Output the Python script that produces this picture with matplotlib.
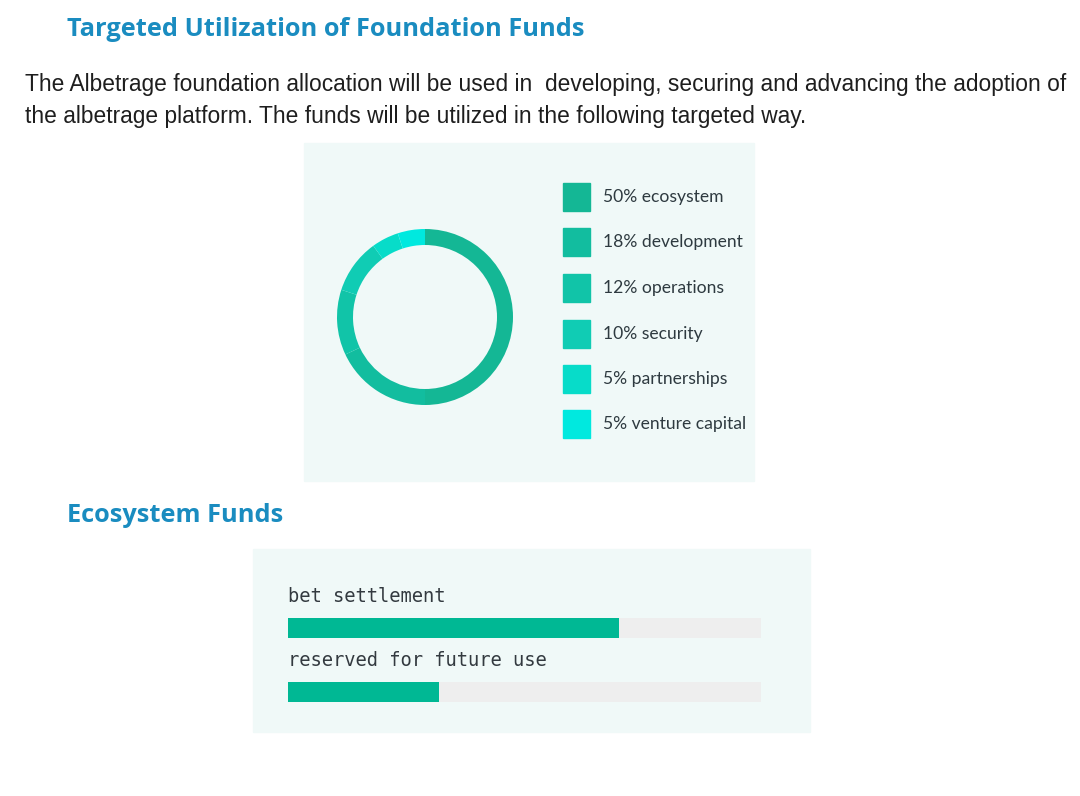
import matplotlib
matplotlib.use("Agg")
import matplotlib.pyplot as plt
from matplotlib.patches import Rectangle

# donut data
labels = ["ecosystem", "development", "operations", "security", "partnerships", "venture capital"]
shares = [50, 18, 12, 10, 5, 5]
colors = ["#14b795", "#12bd9f", "#11c4a8", "#10ccb4", "#07dcc9", "#00e9df"]

# ecosystem funds bars
bar_names = ["bet settlement", "reserved for future use"]
bar_values = [70, 32]

W, H = 1080, 796
fig = plt.figure(figsize=(W / 100, H / 100), dpi=100)
fig.patch.set_facecolor("white")


def px_axes(x, y, w, h):
    # pixel box (top-left origin) -> figure axes
    return fig.add_axes([x / W, 1 - (y + h) / H, w / W, h / H])


def ftext(x, y, s, **kw):
    fig.text(x / W, 1 - y / H, s, **kw)


title_font = ["Open Sans", "DejaVu Sans"]
body_font = ["Liberation Sans", "DejaVu Sans"]

ftext(67, 29, "Targeted Utilization of Foundation Funds", fontsize=18.3, fontweight="bold",
      color="#1a8cc0", family=title_font, va="center", ha="left")
ftext(25, 84, "The Albetrage foundation allocation will be used in  developing, securing and advancing the adoption of",
      fontsize=16.35, color="#1e1e1e", family=body_font, va="center", ha="left")
ftext(25, 116, "the albetrage platform. The funds will be utilized in the following targeted way.",
      fontsize=16.35, color="#1e1e1e", family=body_font, va="center", ha="left")
ftext(67, 515, "Ecosystem Funds", fontsize=18.3, fontweight="bold",
      color="#1a8cc0", family=title_font, va="center", ha="left")

# panel backgrounds
bg = fig.add_axes([0, 0, 1, 1], zorder=-1)
bg.set_xlim(0, W)
bg.set_ylim(H, 0)
bg.axis("off")
bg.add_patch(Rectangle((304, 143), 450, 338, color="#f0f9f8"))
bg.add_patch(Rectangle((253, 549), 557, 183, color="#f0f9f8"))

# donut
r = 88
ax = px_axes(425 - r, 317 - r, 2 * r, 2 * r)
ax.pie(shares, colors=colors, startangle=90, counterclock=False, radius=1,
       wedgeprops=dict(width=16 / r, linewidth=0))
ax.set_xlim(-1, 1)
ax.set_ylim(-1, 1)
ax.set_aspect("equal")
ax.axis("off")

# legend
leg_y = [197, 242, 288, 334, 379, 424]
for i, (lab, s, c) in enumerate(zip(labels, shares, colors)):
    bg.add_patch(Rectangle((563, leg_y[i] - 14), 27, 28, color=c))
    bg.text(603, leg_y[i], f"{s}% {lab}", fontsize=12.6, color="#2e3a40",
            family=["Lato", "DejaVu Sans"], va="center", ha="left")

# bars
bx = px_axes(288, 575, 473, 135)
bx.set_xlim(0, 100)
bx.set_ylim(135, 0)
bx.axis("off")
bar_y = [53, 117]
for name, v, y in zip(bar_names, bar_values, bar_y):
    bx.barh(y, 100, height=20, color="#eeeeee", left=0)
    bx.barh(y, v, height=20, color="#00b894", left=0)
    bx.text(0, y - 32, name, fontsize=13.5, color="#333a40", family="DejaVu Sans Mono",
            va="center", ha="left")

fig.savefig("out.png", dpi=100, facecolor="white")
